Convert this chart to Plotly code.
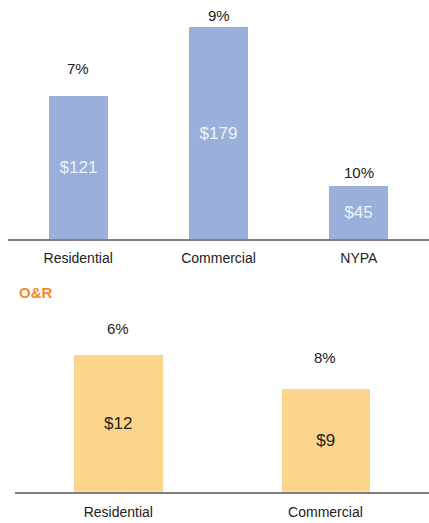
import plotly.graph_objects as go

# Data
top_categories = ["Residential", "Commercial", "NYPA"]
top_values = [121, 179, 45]
top_pcts = ["7%", "9%", "10%"]

bottom_title = "O&R"
bottom_categories = ["Residential", "Commercial"]
bottom_values = [12, 9]
bottom_pcts = ["6%", "8%"]

# Styling (label offsets in px above bar tops)
top_pct_shift = [27, 11, 13]
bottom_pct_shift = [26, 31]
W, H = 429, 523
FONT = "Liberation Sans, Arial, sans-serif"
TXT = "#222222"


def py(p):
    return 1 - p / H


fig = go.Figure()
fig.add_trace(go.Bar(
    x=top_categories, y=top_values, xaxis="x", yaxis="y",
    marker=dict(color="#9aafd9", line=dict(width=0)), width=0.42,
    text=[f"${v}" for v in top_values], textposition="inside",
    insidetextanchor="middle", textangle=0,
    textfont=dict(family=FONT, size=17, color="#eef2fa"),
    hoverinfo="skip", showlegend=False,
))
fig.add_trace(go.Bar(
    x=bottom_categories, y=bottom_values, xaxis="x2", yaxis="y2",
    marker=dict(color="#fbd58b", line=dict(width=0)), width=0.426,
    text=[f"${v}" for v in bottom_values], textposition="inside",
    insidetextanchor="middle", textangle=0,
    textfont=dict(family=FONT, size=17, color=TXT),
    hoverinfo="skip", showlegend=False,
))

annotations = []
for c, v, p, s in zip(top_categories, top_values, top_pcts, top_pct_shift):
    annotations.append(dict(x=c, y=v, xref="x", yref="y", text=p, showarrow=False,
                            yanchor="middle", yshift=s,
                            font=dict(family=FONT, size=15, color=TXT)))
for c, v, p, s in zip(bottom_categories, bottom_values, bottom_pcts, bottom_pct_shift):
    annotations.append(dict(x=c, y=v, xref="x2", yref="y2", text=p, showarrow=False,
                            yanchor="middle", yshift=s,
                            font=dict(family=FONT, size=15, color=TXT)))
annotations.append(dict(x=17 / W, y=py(292), xref="paper", yref="paper", text="<b>" + bottom_title + "</b>",
                        showarrow=False, xanchor="left", yanchor="middle",
                        font=dict(family=FONT, size=15, color="#f58a2a")))

axis_common = dict(showgrid=False, zeroline=False, showline=True, linecolor="#7f7f7f", linewidth=1.5,
                   ticks="", tickfont=dict(family=FONT, size=14, color=TXT), fixedrange=True,
                   automargin=False)
yaxis_common = dict(visible=False, showgrid=False, zeroline=False, fixedrange=True, automargin=False)

fig.update_layout(
    width=W, height=H, margin=dict(l=0, r=0, t=0, b=0, autoexpand=False),
    paper_bgcolor="white", plot_bgcolor="white",
    xaxis=dict(domain=[8 / W, 1], anchor="y", range=[-0.5, 2.5], ticklabelstandoff=5, **axis_common),
    yaxis=dict(domain=[py(239), py(10)], anchor="x", range=[0, 229 / 1.185], **yaxis_common),
    xaxis2=dict(domain=[14.75 / W, 1], anchor="y2", range=[-0.5, 1.5], ticklabelstandoff=7, **axis_common),
    yaxis2=dict(domain=[py(491.7), py(320)], anchor="x2", range=[0, 171.7 / 11.43], **yaxis_common),
    annotations=annotations,
    bargap=0,
)

fig.write_html("out.html", config={"displayModeBar": False, "responsive": False},
               post_script="document.body.style.margin='0';document.body.style.padding='0';")
